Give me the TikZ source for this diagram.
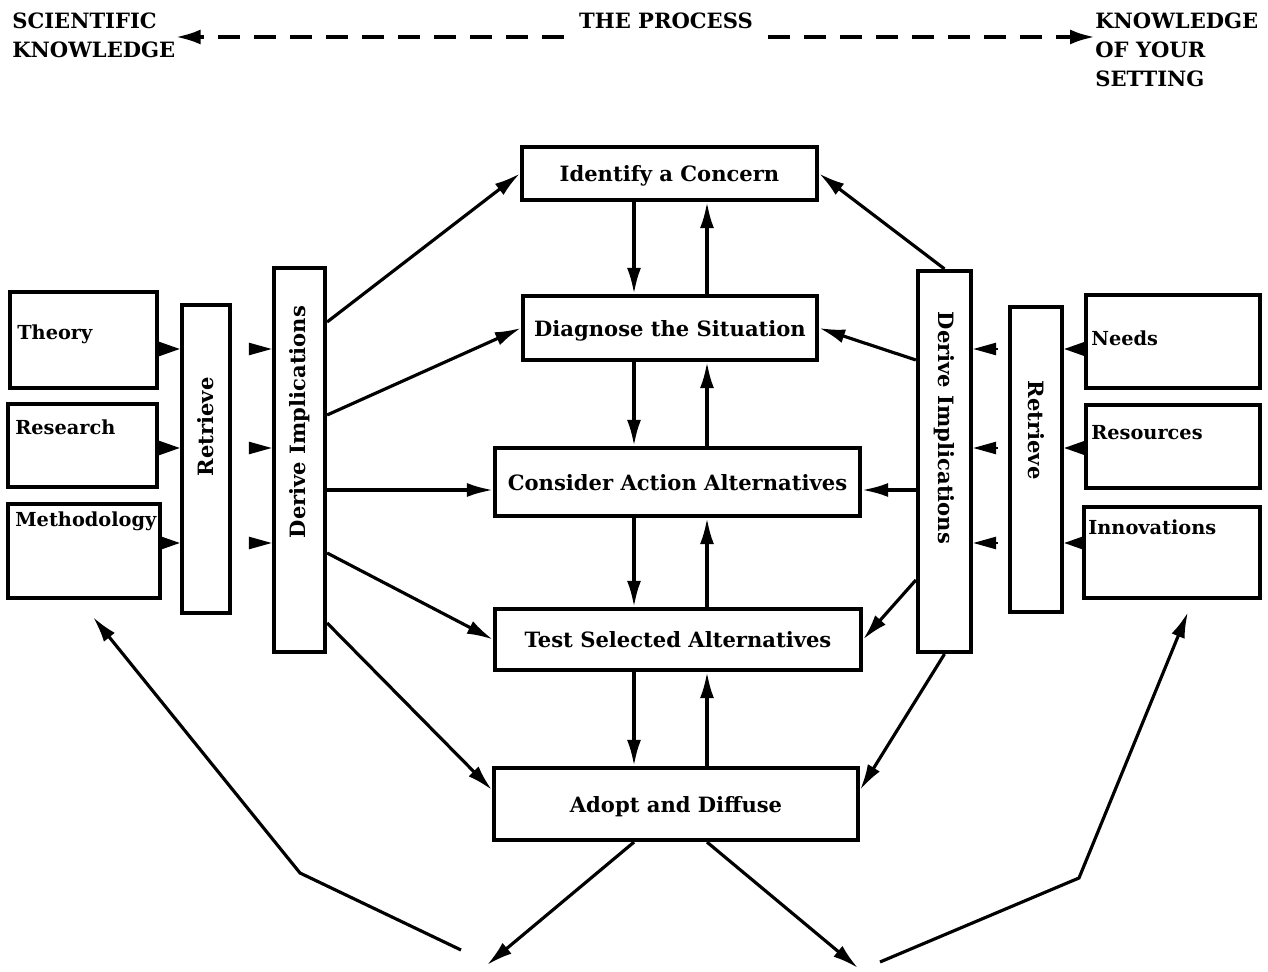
\documentclass[tikz,border=0pt]{standalone}
\usepackage{fontspec}
\setmainfont{DejaVu Serif}
\usetikzlibrary{arrows.meta}

\begin{document}
\begin{tikzpicture}[x=0.02cm, y=-0.02cm,
		box/.style={draw, line width=2.4pt, inner sep=0pt, text depth=0pt, font=\fontsize{12}{14}\selectfont\bfseries},
		tag/.style={inner sep=0pt, font=\fontsize{12}{14}\selectfont\bfseries},
		item/.style={inner sep=0pt, anchor=west, font=\fontsize{11}{13}\selectfont\bfseries},
		head/.style={inner sep=0pt, align=left, font=\fontsize{12}{16.5}\selectfont\bfseries},
		flow/.style={line width=1.8pt, -{Latex[length=0.52cm, width=0.28cm]}},
		feed/.style={line width=1.4pt, -{Triangle[length=0.42cm, width=0.28cm]}},
		hint/.style={line width=1.4pt, shorten <=#1, -{Triangle[length=0.46cm, width=0.24cm]}},
		hint/.default=0.34cm,
		process/.style={line width=2.2pt, dash pattern=on 0.44cm off 0.28cm, -{Latex[length=0.5cm, width=0.3cm]}},
	]
	\path[use as bounding box, fill=white] (0,0) rectangle (1268,972);

	\node[head, anchor=north west] (sci) at (12,13) {SCIENTIFIC\\KNOWLEDGE};
	\node[head, inner xsep=0.3cm] (proc) at (666,21) {THE PROCESS};
	\node[head, anchor=north west] (know) at (1095,13) {KNOWLEDGE\\OF YOUR\\SETTING};
	\path (0,37) coordinate (d);
	\draw[process] (proc.west|-d) -- (sci.east|-d);
	\draw[process] (proc.east|-d) -- (know.west|-d);

	\node[box, minimum width=5.9cm, minimum height=1.06cm] (iden) at (669.5,173.5) {Identify a Concern};
	\node[box, minimum width=5.88cm, minimum height=1.28cm] (diag) at (670,328) {Diagnose the Situation};
	\node[box, minimum width=7.3cm, minimum height=1.36cm] (cons) at (677.5,482) {Consider Action Alternatives};
	\node[box, minimum width=7.32cm, minimum height=1.22cm] (test) at (678,639.5) {Test Selected Alternatives};
	\node[box, minimum width=7.28cm, minimum height=1.44cm] (adop) at (676,804) {Adopt and Diffuse};

	\node[box, minimum width=2.94cm, minimum height=1.92cm] (theo) at (83.5,340) {};
	\node[box, minimum width=2.98cm, minimum height=1.66cm] (rese) at (82.5,445.5) {};
	\node[box, minimum width=3.04cm, minimum height=1.88cm] (meth) at (84,551) {};
	\node[item] (theot) at (17,334) {Theory};
	\node[item] (reset) at (15,427) {Research};
	\node[item] (metht) at (15,521) {Methodology};

	\node[box, minimum width=0.96cm, minimum height=6.16cm] (lret) at (206,459) {};
	\node[tag, rotate=90] (lrett) at (206,427) {Retrieve};
	\node[box, minimum width=1.02cm, minimum height=7.68cm] (lder) at (299.5,460) {};
	\node[tag, rotate=90] (ldert) at (299.5,422) {Derive Implications};

	\node[box, minimum width=1.06cm, minimum height=7.62cm] (rder) at (944.5,461.5) {};
	\node[tag, rotate=-90] (rdert) at (944.5,428) {Derive Implications};
	\node[box, minimum width=1.04cm, minimum height=6.1cm] (rret) at (1036,459.5) {};
	\node[tag, rotate=-90] (rrett) at (1036,430) {Retrieve};

	\node[box, minimum width=3.48cm, minimum height=1.86cm] (need) at (1173,341.5) {};
	\node[box, minimum width=3.48cm, minimum height=1.66cm] (reso) at (1173,446.5) {};
	\node[box, minimum width=3.52cm, minimum height=1.82cm] (inno) at (1172,552.5) {};
	\node[item] (needt) at (1091,338) {Needs};
	\node[item] (resot) at (1091,433) {Resources};
	\node[item] (innot) at (1088,527) {Innovations};

	\path (0,349) coordinate (r1) (0,448) coordinate (r2) (0,543) coordinate (r3);
	\foreach \s/\r in {theo/r1, rese/r2, meth/r3} {
		\draw[feed] (\s.east|-\r) -- (lret.west|-\r);
		\draw[hint] (lret.east|-\r) -- (lder.west|-\r);
	}
	\foreach \s/\r in {need/r1, reso/r2, inno/r3} {
		\draw[feed] (\s.west|-\r) -- (rret.east|-\r);
		\draw[hint=0.2cm] (rret.west|-\r) -- (rder.east|-\r);
	}

	\path (0,322) coordinate (l1) (0,415) coordinate (l2) (0,490) coordinate (l3)
		(0,553) coordinate (l4) (0,623) coordinate (l5)
		(0,360) coordinate (s2) (0,580) coordinate (s4) (0,790) coordinate (a1);
	\draw[flow] (lder.east|-l1) -- (iden.west);
	\draw[flow] (lder.east|-l2) -- (diag.west);
	\draw[flow] (lder.east|-l3) -- (cons.west|-l3);
	\draw[flow] (lder.east|-l4) -- (test.west);
	\draw[flow] (lder.east|-l5) -- (adop.west|-a1);
	\draw[flow] (rder.north) -- (iden.east);
	\draw[flow] (rder.west|-s2) -- (diag.east);
	\draw[flow] (rder.west|-l3) -- (cons.east|-l3);
	\draw[flow] (rder.west|-s4) -- (test.east);
	\draw[flow] (rder.south) -- (adop.east|-a1);

	\path (634,0) coordinate (dn) (707,0) coordinate (up);
	\foreach \a/\b in {iden/diag, diag/cons, cons/test, test/adop} {
		\draw[flow] (\a.south-|dn) -- (\b.north-|dn);
		\draw[flow] (\b.north-|up) -- (\a.south-|up);
	}

	\path (487,965) coordinate (e1) (858,968) coordinate (e2);
	\draw[flow] (adop.south-|dn) -- (e1);
	\draw[flow] (adop.south-|up) -- (e2);

	\path (461,950) coordinate (b1) (300,873) coordinate (b2) (93,617) coordinate (k1)
		(880,962) coordinate (b3) (1079,878) coordinate (b4) (1188,612) coordinate (k2);
	\draw[flow] (b1) -- (b2) -- (k1);
	\draw[flow] (b3) -- (b4) -- (k2);
\end{tikzpicture}
\end{document}
